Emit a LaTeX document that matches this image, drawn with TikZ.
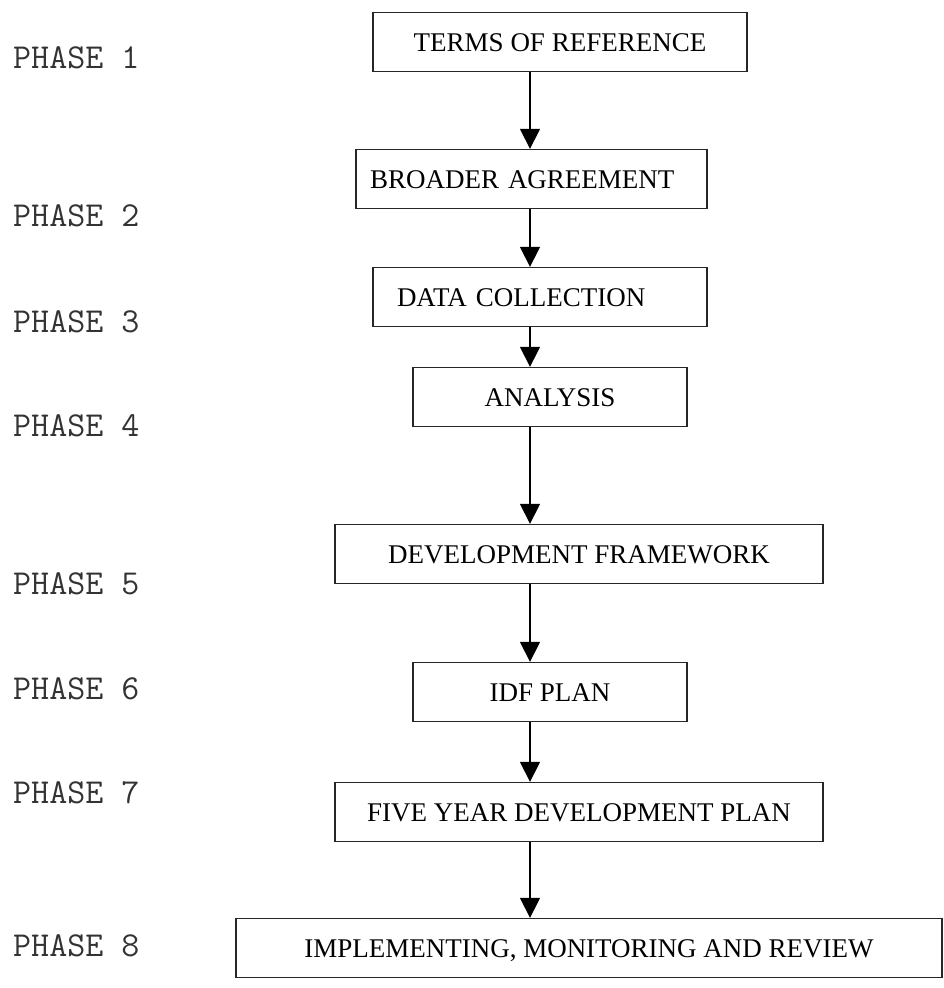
\documentclass[tikz,border=0pt]{standalone}
\usepackage{fontspec}
\newfontfamily\stagefont{Liberation Serif}
\usetikzlibrary{arrows.meta,positioning}

\begin{document}
\begin{tikzpicture}[
  x=1pt, y=-1pt,
  >={Triangle[length=20pt,width=20pt]},
  stage/.style={draw=black!85, line width=1.3pt, minimum height=59pt,
    inner sep=0pt, text height=18pt, text depth=0pt,
    font=\stagefont\fontsize{27}{32}\selectfont},
  phase/.style={anchor=west, inner sep=0pt, text height=21pt, text depth=0pt,
    font=\ttfamily\fontsize{35}{40}\selectfont, text=black!80},
  every edge/.style={draw, ->, line width=1.3pt}
]
\useasboundingbox (0,0) rectangle (943,988);
\coordinate (spine) at (530,0);

% stages
\node[stage, minimum width=374pt] (tor) at (560,42) {TERMS OF REFERENCE};
\node[stage, minimum width=351pt, text width=323pt, align=left] (broad) at (531.5,179)
 {BROADER AGREEMENT};
\node[stage, minimum width=334pt, text width=286pt, align=left] (data) at (540,297)
 {DATA COLLECTION};
\node[stage, minimum width=274pt] (ana) at (550,397) {ANALYSIS};
\node[stage, minimum width=488pt] (devfw) at (579,554) {DEVELOPMENT FRAMEWORK};
\node[stage, minimum width=274pt] (idf) at (550,692) {IDF PLAN};
\node[stage, minimum width=488pt] (fiveyr) at (579,812) {FIVE YEAR DEVELOPMENT PLAN};
\node[stage, minimum width=706pt] (impl) at (589,948)
 {IMPLEMENTING, MONITORING AND REVIEW};

% phase labels
\node[phase] (ph1) at (13,58) {PHASE 1};
\node[phase] (ph2) at (13,216) {PHASE 2};
\node[phase] (ph3) at (13,322) {PHASE 3};
\node[phase] (ph4) at (13,426) {PHASE 4};
\node[phase] (ph5) at (13,584) {PHASE 5};
\node[phase] (ph6) at (13,689) {PHASE 6};
\node[phase] (ph7) at (13,793) {PHASE 7};
\node[phase] (ph8) at (13,946) {PHASE 8};

\path (tor.south -| spine) edge (broad.north -| spine)
      (broad.south -| spine) edge (data.north -| spine)
      (data.south -| spine) edge (ana.north -| spine)
      (ana.south -| spine) edge (devfw.north -| spine)
      (devfw.south -| spine) edge (idf.north -| spine)
      (idf.south -| spine) edge (fiveyr.north -| spine)
      (fiveyr.south -| spine) edge (impl.north -| spine);
\end{tikzpicture}
\end{document}
